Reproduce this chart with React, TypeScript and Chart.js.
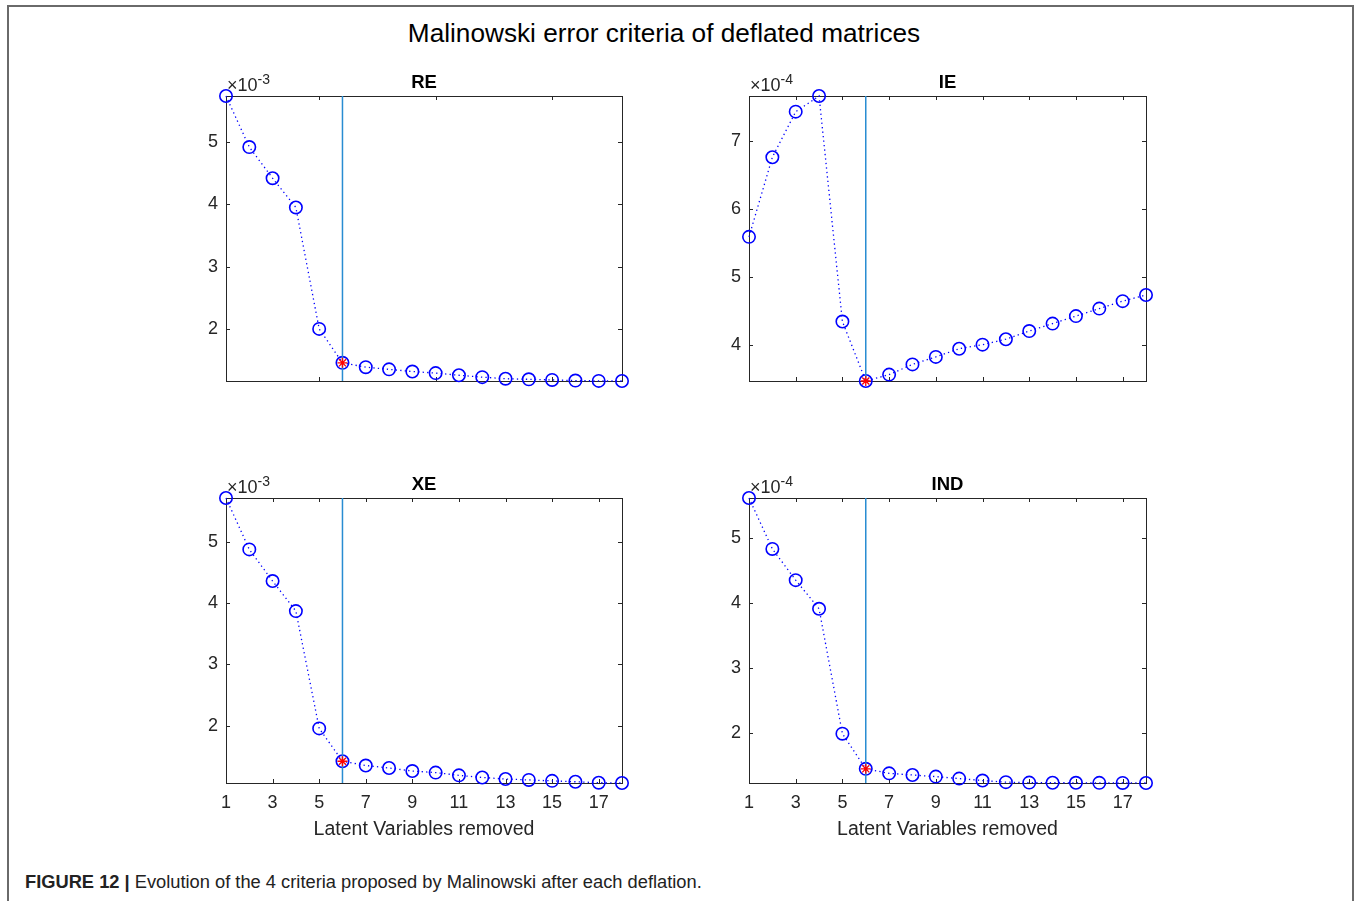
import React, { useEffect, useRef } from "react";
import { Chart, registerables } from "chart.js";

Chart.register(...registerables);

// ---------- data ----------
const latentVariables = [1, 2, 3, 4, 5, 6, 7, 8, 9, 10, 11, 12, 13, 14, 15, 16, 17, 18];
const reValues = [5.74, 4.92, 4.42, 3.95, 2.0, 1.455, 1.385, 1.35, 1.315, 1.29, 1.255, 1.225, 1.2, 1.19, 1.18, 1.17, 1.165, 1.163];
const ieValues = [5.595, 6.765, 7.435, 7.665, 4.35, 3.476, 3.57, 3.72, 3.83, 3.95, 4.01, 4.09, 4.21, 4.32, 4.43, 4.54, 4.65, 4.74];
const xeValues = [5.715, 4.876, 4.36, 3.87, 1.956, 1.42, 1.35, 1.31, 1.26, 1.235, 1.19, 1.155, 1.13, 1.115, 1.1, 1.085, 1.07, 1.065];
const indValues = [5.613, 4.83, 4.35, 3.91, 1.99, 1.45, 1.38, 1.355, 1.33, 1.3, 1.27, 1.245, 1.238, 1.236, 1.235, 1.234, 1.233, 1.232];
const selectedLV = 6;

const reYTicks = [2, 3, 4, 5];
const ieYTicks = [4, 5, 6, 7];
const xeYTicks = [2, 3, 4, 5];
const indYTicks = [2, 3, 4, 5];
const reXTicks = [5, 10, 15];
const ieXTicks = [3, 5, 7, 9, 11, 13, 15, 17];
const bottomXTicks = [1, 3, 5, 7, 9, 11, 13, 15, 17];

const figureTitle = "Malinowski error criteria of deflated matrices";
const xAxisTitle = "Latent Variables removed";
const captionBold = "FIGURE 12 |";
const captionText = " Evolution of the 4 criteria proposed by Malinowski after each deflation.";

// ---------- styling ----------
const FONT = "'Liberation Sans', Arial, sans-serif";
const AXIS_COLOR = "#262626";
const SERIES_COLOR = "#0000ff";
const VLINE_COLOR = "rgb(40,140,210)";

type PanelDef = {
  title: string;
  values: number[];
  exponent: string;
  yTicks: number[];
  xTicks: number[];
  showXLabels: boolean;
  left: number;
  top: number;
  plotWidth: number;
};

const Y_AXIS_W = 66;
const PAD_TOP = 40;
const PAD_RIGHT = 16;
const X_AXIS_H = 62;
const PLOT_H = 285;

const panels: PanelDef[] = [
  { title: "RE", values: reValues, exponent: "-3", yTicks: reYTicks, xTicks: reXTicks, showXLabels: false, left: 160, top: 56, plotWidth: 396 },
  { title: "IE", values: ieValues, exponent: "-4", yTicks: ieYTicks, xTicks: ieXTicks, showXLabels: false, left: 683, top: 56, plotWidth: 397 },
  { title: "XE", values: xeValues, exponent: "-3", yTicks: xeYTicks, xTicks: bottomXTicks, showXLabels: true, left: 160, top: 458, plotWidth: 396 },
  { title: "IND", values: indValues, exponent: "-4", yTicks: indYTicks, xTicks: bottomXTicks, showXLabels: true, left: 683, top: 458, plotWidth: 397 },
];

const matlabPlugin = (p: PanelDef) => ({
  id: "matlabAxes" + p.title,
  beforeDatasetsDraw(chart: any) {
    const { ctx, chartArea: a, scales } = chart;
    ctx.save();
    ctx.strokeStyle = AXIS_COLOR;
    ctx.lineWidth = 1;
    ctx.strokeRect(Math.round(a.left) + 0.5, Math.round(a.top) + 0.5, Math.round(a.right - a.left), Math.round(a.bottom - a.top));
    const tl = 4;
    ctx.beginPath();
    scales.x.ticks.forEach((t: any) => {
      const x = Math.round(scales.x.getPixelForValue(t.value)) + 0.5;
      ctx.moveTo(x, a.bottom);
      ctx.lineTo(x, a.bottom - tl);
      ctx.moveTo(x, a.top);
      ctx.lineTo(x, a.top + tl);
    });
    scales.y.ticks.forEach((t: any) => {
      const y = Math.round(scales.y.getPixelForValue(t.value)) + 0.5;
      ctx.moveTo(a.left, y);
      ctx.lineTo(a.left + tl, y);
      ctx.moveTo(a.right, y);
      ctx.lineTo(a.right - tl, y);
    });
    ctx.stroke();
    ctx.restore();
  },
  afterDraw(chart: any) {
    const { ctx, chartArea: a } = chart;
    ctx.save();
    // panel title
    ctx.fillStyle = "#000";
    ctx.font = `bold 18.5px ${FONT}`;
    ctx.textAlign = "center";
    ctx.textBaseline = "alphabetic";
    ctx.fillText(p.title, (a.left + a.right) / 2, a.top - 8);
    // exponent label
    ctx.textAlign = "left";
    ctx.fillStyle = AXIS_COLOR;
    ctx.font = `18px ${FONT}`;
    const base = "\u00d710";
    ctx.fillText(base, a.left + 1, a.top - 5);
    const w = ctx.measureText(base).width;
    ctx.font = `14px ${FONT}`;
    ctx.fillText(p.exponent, a.left + 1 + w, a.top - 12);
    // x axis title
    if (p.showXLabels) {
      ctx.font = `19.5px ${FONT}`;
      ctx.textAlign = "center";
      ctx.fillStyle = AXIS_COLOR;
      ctx.fillText(xAxisTitle, (a.left + a.right) / 2, a.bottom + 52);
    }
    ctx.restore();
  },
});

function Panel({ p }: { p: PanelDef }) {
  const ref = useRef<HTMLCanvasElement | null>(null);
  const width = p.plotWidth + Y_AXIS_W + PAD_RIGHT;
  const height = PLOT_H + PAD_TOP + X_AXIS_H;
  useEffect(() => {
    if (!ref.current) return;
    const pts = latentVariables.map((x, i) => ({ x, y: p.values[i] }));
    const yMin = Math.min(...p.values);
    const yMax = Math.max(...p.values);
    const selIdx = latentVariables.indexOf(selectedLV);
    const chart = new Chart(ref.current, {
      type: "scatter",
      data: {
        datasets: [
          {
            data: [{ x: selectedLV, y: p.values[selIdx] }],
            pointStyle: "star",
            pointRadius: 5,
            pointBorderColor: "#ff0000",
            pointBackgroundColor: "#ff0000",
            pointBorderWidth: 1.3,
            showLine: false,
            clip: false,
            order: 0,
          } as any,
          {
            data: [
              { x: selectedLV, y: yMin },
              { x: selectedLV, y: yMax },
            ],
            showLine: true,
            borderColor: VLINE_COLOR,
            borderWidth: 1.5,
            pointRadius: 0,
            clip: false,
            order: 1,
          } as any,
          {
            data: pts,
            showLine: true,
            borderColor: SERIES_COLOR,
            borderWidth: 1.3,
            borderDash: [1.3, 3.2],
            pointStyle: "circle",
            pointRadius: 6.2,
            pointBorderWidth: 1.6,
            pointBorderColor: SERIES_COLOR,
            pointBackgroundColor: "rgba(0,0,0,0)",
            clip: false,
            order: 2,
          } as any,
        ],
      },
      options: {
        animation: false,
        responsive: false,
        maintainAspectRatio: false,
        events: [],
        layout: { padding: { top: PAD_TOP, right: PAD_RIGHT, left: 0, bottom: 0 } },
        plugins: { legend: { display: false }, tooltip: { enabled: false }, title: { display: false } },
        scales: {
          x: {
            type: "linear",
            min: 1,
            max: 18,
            afterBuildTicks: (s: any) => {
              s.ticks = p.xTicks.map((v) => ({ value: v }));
            },
            afterFit: (s: any) => {
              s.height = X_AXIS_H;
            },
            grid: { display: false, drawTicks: false },
            border: { display: false },
            ticks: {
              display: p.showXLabels,
              autoSkip: false,
              maxRotation: 0,
              padding: 9,
              color: AXIS_COLOR,
              font: { family: FONT, size: 18 },
              callback: (v: any) => String(v),
            },
          },
          y: {
            type: "linear",
            min: yMin,
            max: yMax,
            afterBuildTicks: (s: any) => {
              s.ticks = p.yTicks.map((v) => ({ value: v }));
            },
            afterFit: (s: any) => {
              s.width = Y_AXIS_W;
            },
            grid: { display: false, drawTicks: false },
            border: { display: false },
            ticks: {
              padding: 8,
              color: AXIS_COLOR,
              font: { family: FONT, size: 18 },
              callback: (v: any) => String(v),
            },
          },
        },
      } as any,
      plugins: [matlabPlugin(p)],
    });
    return () => chart.destroy();
  }, [p]);
  return (
    <canvas
      ref={ref}
      width={width}
      height={height}
      style={{ position: "absolute", left: p.left, top: p.top, width, height }}
    />
  );
}

export default function App() {
  return (
    <div style={{ position: "absolute", left: 0, top: 0, width: 1356, height: 901, overflow: "hidden", background: "#fff" }}>
      <div
        style={{
          position: "absolute",
          left: 7,
          top: 5,
          width: 1347,
          height: 896,
          borderTop: "2px solid #6a6a6a",
          borderLeft: "2px solid #6a6a6a",
          borderRight: "2px solid #6a6a6a",
          boxSizing: "border-box",
        }}
      />
      <div
        style={{
          position: "absolute",
          left: 664,
          top: 18,
          transform: "translateX(-50%)",
          whiteSpace: "nowrap",
          fontFamily: FONT,
          fontSize: 26.2,
          lineHeight: "30px",
          color: "#000",
        }}
      >
        {figureTitle}
      </div>
      {panels.map((p) => (
        <Panel key={p.title} p={p} />
      ))}
      <div
        style={{
          position: "absolute",
          left: 25,
          top: 871,
          whiteSpace: "nowrap",
          fontFamily: FONT,
          fontSize: 18.3,
          lineHeight: "22px",
          color: "#222",
        }}
      >
        <b>{captionBold}</b>
        {captionText}
      </div>
    </div>
  );
}
